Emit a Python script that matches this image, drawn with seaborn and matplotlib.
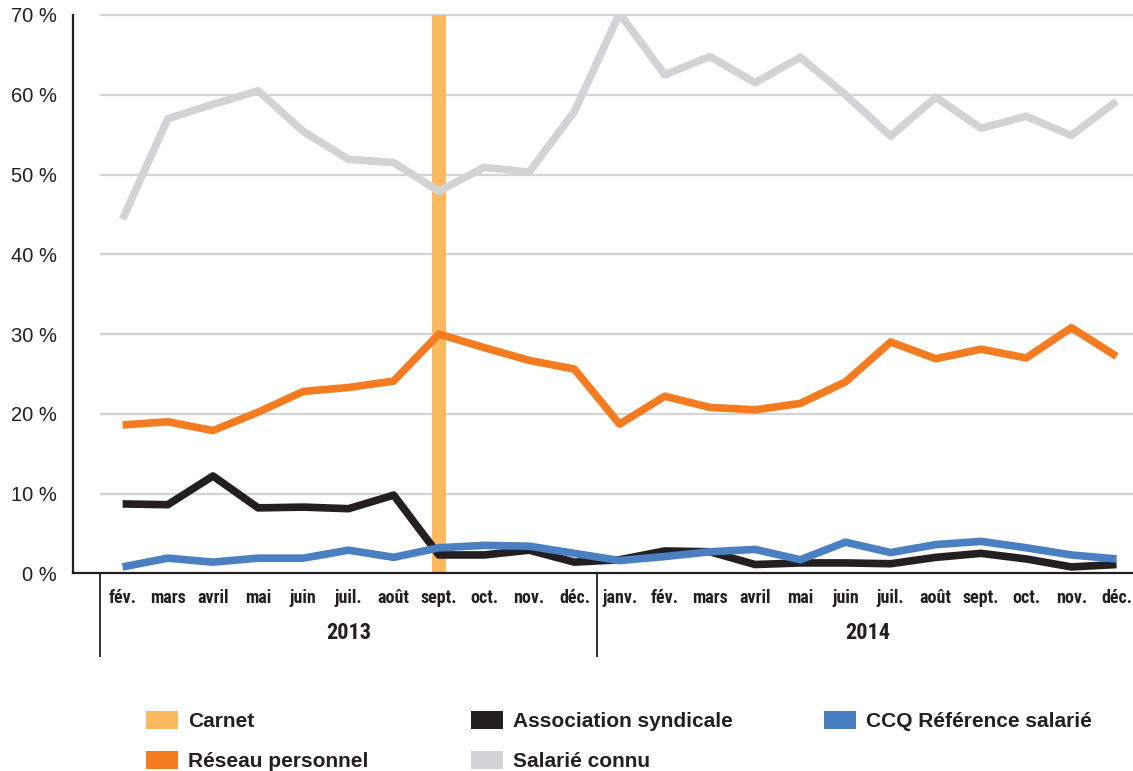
import os
import numpy as np
import pandas as pd
import matplotlib
matplotlib.use("Agg")
import matplotlib.pyplot as plt
import seaborn as sns
from matplotlib import font_manager
from matplotlib.patches import Patch

# ---------------- data ----------------
months = ["fév.", "mars", "avril", "mai", "juin", "juil.", "août", "sept.", "oct.", "nov.", "déc.",
          "janv.", "fév.", "mars", "avril", "mai", "juin", "juil.", "août", "sept.", "oct.", "nov.", "déc."]
years = ["2013", "2014"]
months_per_year = [11, 12]

salarie_connu = [44.4, 57.0, 58.8, 60.5, 55.4, 51.9, 51.5, 47.9, 50.9, 50.3, 57.9,
                 70.2, 62.5, 64.8, 61.5, 64.7, 60.0, 54.8, 59.7, 55.8, 57.3, 54.9, 59.2]
reseau_personnel = [18.6, 19.0, 17.9, 20.2, 22.8, 23.3, 24.1, 30.0, 28.3, 26.7, 25.6,
                    18.7, 22.2, 20.8, 20.5, 21.3, 24.0, 29.0, 26.9, 28.1, 27.0, 30.8, 27.2]
association_syndicale = [8.7, 8.6, 12.2, 8.2, 8.3, 8.1, 9.8, 2.3, 2.3, 2.9, 1.4,
                         1.7, 2.8, 2.7, 1.1, 1.3, 1.3, 1.2, 2.0, 2.5, 1.8, 0.8, 1.1]
ccq_reference = [0.8, 1.9, 1.4, 1.9, 1.9, 2.9, 2.0, 3.2, 3.5, 3.4, 2.5,
                 1.6, 2.1, 2.7, 3.0, 1.7, 3.9, 2.6, 3.6, 4.0, 3.2, 2.3, 1.8]
carnet = [0, 0, 0, 0, 0, 0, 0, 70, 0, 0, 0,
          0, 0, 0, 0, 0, 0, 0, 0, 0, 0, 0, 0]

series_names = ["Salarié connu", "Réseau personnel", "Association syndicale", "CCQ Référence salarié"]
series_values = [salarie_connu, reseau_personnel, association_syndicale, ccq_reference]
y_ticks = [0, 10, 20, 30, 40, 50, 60, 70]

# ---------------- style ----------------
C_GRAY = "#D1D3D4"
C_ORANGE = "#F47B20"
C_BLACK = "#231F20"
C_BLUE = "#4A80C2"
C_CARNET = "#FDB95F"
C_GRID = "#D3D4D6"
TXT = "#231F20"

sns.set_style("white")
plt.rcParams["font.family"] = ["Liberation Sans", "DejaVu Sans"]


def pick_condensed_bold():
    best, best_rank = None, 99
    prefs = ["liberationsansnarrow-bold", "arialnb", "arial narrow bold", "robotocondensed-bold",
             "opensanscondensed-bold", "opensans_condensed-bold", "notosans-condensedbold",
             "dejavusanscondensed-bold", "condensedbold", "condensed-bold", "narrow-bold", "narrowbold"]
    for f in font_manager.fontManager.ttflist:
        fn = os.path.basename(f.fname).lower()
        if "italic" in fn or "oblique" in fn:
            continue
        for r, key in enumerate(prefs):
            if key in fn and "semi" not in fn and "extra" not in fn and r < best_rank:
                best, best_rank = f.fname, r
    return best


NARROW_FILE = pick_condensed_bold()


def narrow_fp(size):
    if NARROW_FILE:
        return font_manager.FontProperties(fname=NARROW_FILE, size=size)
    return font_manager.FontProperties(family="Liberation Sans", weight="bold", size=size * 0.85)


W, H = 1133, 771
fig = plt.figure(figsize=(W / 100, H / 100), dpi=100)
x_left_px, x_first_px, cell_px = 73, 100, 45.18
n = len(months)
x_right_px = x_first_px + n * cell_px
y_top_px, y_bot_px = 15, 573.3
ax = fig.add_axes([x_left_px / W, 1 - y_bot_px / H, (x_right_px - x_left_px) / W, (y_bot_px - y_top_px) / H])

pos = np.arange(n)

# gridlines
ax.hlines(y_ticks[1:], -0.5, n - 0.5, color=C_GRID, lw=1.6, zorder=0.5, clip_on=False)

# Carnet bar
sns.barplot(x=pos, y=carnet, native_scale=True, width=0.32, color=C_CARNET,
            errorbar=None, ax=ax, zorder=1, linewidth=0, saturation=1)

# lines
df = pd.DataFrame({
    "pos": np.tile(pos, len(series_names)),
    "value": np.concatenate(series_values),
    "series": np.repeat(series_names, n),
})
palette = {"Salarié connu": C_GRAY, "Réseau personnel": C_ORANGE,
           "Association syndicale": C_BLACK, "CCQ Référence salarié": C_BLUE}
sns.lineplot(data=df, x="pos", y="value", hue="series", hue_order=series_names,
             palette=palette, linewidth=5.5, legend=False, ax=ax, sort=False,
             solid_joinstyle="round", solid_capstyle="butt", zorder=3)

# axes limits
ax.set_xlim(-0.5 - (x_first_px - x_left_px) / cell_px, n - 0.5)
ax.set_ylim(0, 70)
ax.set_xlabel("")
ax.set_ylabel("")

for s in ["top", "right"]:
    ax.spines[s].set_visible(False)
for s in ["left", "bottom"]:
    ax.spines[s].set_color(TXT)
    ax.spines[s].set_linewidth(1.6)
    ax.spines[s].set_zorder(4)

# y ticks
ax.set_yticks(y_ticks, labels=[f"{v} %" for v in y_ticks])
ax.tick_params(axis="y", direction="in", length=17.3, width=1.6, color=TXT,
               pad=11.5, labelsize=14.5, labelcolor=TXT)

# x ticks: separators (major) + month labels (minor)
ax.set_xticks(np.arange(-0.5, n, 1.0), labels=[])
ax.set_xticks(pos, labels=months, minor=True)
ax.tick_params(axis="x", which="major", direction="out", length=17.3, width=1.3, color=TXT)
ax.tick_params(axis="x", which="minor", length=0, pad=11, labelcolor=TXT)
for lab in ax.get_xticklabels(minor=True):
    lab.set_fontproperties(narrow_fp(13))

# year axis
bounds = np.cumsum([0] + months_per_year) - 0.5
centers = (bounds[:-1] + bounds[1:]) / 2
sec = ax.secondary_xaxis("bottom")
sec.spines["bottom"].set_visible(False)
sec.set_xticks(bounds, labels=[])
sec.set_xticks(centers, labels=years, minor=True)
sec.tick_params(axis="x", which="major", direction="out", length=60.5, width=1.3, color=TXT)
sec.tick_params(axis="x", which="minor", length=0, pad=35, labelcolor=TXT)
for lab in sec.get_xticklabels(minor=True):
    lab.set_fontproperties(narrow_fp(16))

# legend (three columns positioned like the reference)
leg_font = font_manager.FontProperties(family="Liberation Sans", weight="bold", size=15)
cols = [
    (146, [("Carnet", C_CARNET), ("Réseau personnel", C_ORANGE)]),
    (471, [("Association syndicale", C_BLACK), ("Salarié connu", C_GRAY)]),
    (824, [("CCQ Référence salarié", C_BLUE)]),
]
for xpx, items in cols:
    handles = [Patch(facecolor=c, edgecolor="none") for _, c in items]
    labels = [l for l, _ in items]
    leg = fig.legend(handles, labels, loc="upper left", bbox_to_anchor=(xpx / W, 1 - 711 / H),
                     frameon=False, prop=leg_font, handlelength=1.55, handleheight=0.95,
                     handletextpad=0.45, labelspacing=0.95, borderpad=0, borderaxespad=0)
    for t in leg.get_texts():
        t.set_color(TXT)

fig.savefig("out.png", dpi=100)
